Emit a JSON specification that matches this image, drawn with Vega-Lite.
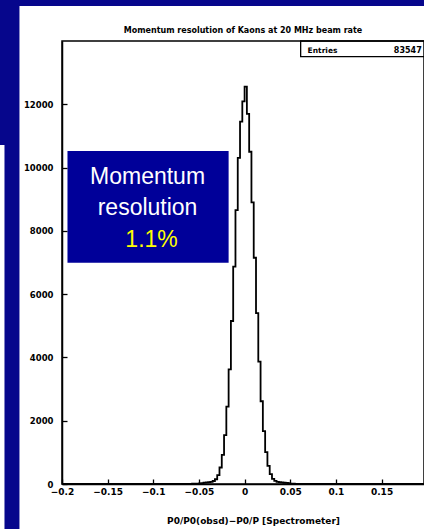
{
  "$schema": "https://vega.github.io/schema/vega-lite/v6.json",
  "width": 362,
  "height": 443,
  "autosize": {"type": "none"},
  "padding": {"left": 62, "top": 41, "right": 0, "bottom": 45},
  "background": "#06068c",
  "title": {
    "text": "Momentum resolution of Kaons at 20 MHz beam rate",
    "font": "DejaVu Sans",
    "fontSize": 8,
    "fontWeight": "bold",
    "color": "black",
    "offset": 0,
    "dy": 29,
    "anchor": "middle"
  },
  "config": {
    "view": {"stroke": null},
    "axis": {
      "grid": false,
      "labelOverlap": false,
      "labelBound": false,
      "labelFlush": false,
      "labelFont": "DejaVu Sans",
      "labelFontWeight": "bold",
      "labelColor": "black",
      "ticks": true,
      "tickSize": -5,
      "tickColor": "black",
      "tickWidth": 1.3,
      "domainColor": "black",
      "domainWidth": 1.5,
      "titleFont": "DejaVu Sans",
      "titleFontWeight": "bold",
      "titleColor": "black"
    },
    "axisX": {"labelFontSize": 9, "labelPadding": 8, "titleFontSize": 9, "titlePadding": 20},
    "axisY": {"labelFontSize": 8.5, "labelPadding": 14}
  },
  "layer": [
    {
      "data": {"values": [{}]},
      "mark": {"type": "rect", "fill": "white", "clip": false},
      "encoding": {
        "x": {"datum": -0.2466, "type": "quantitative", "scale": {"domain": [-0.2, 0.1965], "nice": false, "zero": false}},
        "x2": {"datum": 0.23},
        "y": {"datum": 15106, "type": "quantitative", "scale": {"domain": [0, 14000], "nice": false, "zero": false}},
        "y2": {"datum": -1500}
      }
    },
    {
      "data": {"values": [{}]},
      "mark": {"type": "rect", "fill": "white", "clip": false},
      "encoding": {
        "x": {"datum": -0.2685, "type": "quantitative"},
        "x2": {"datum": -0.263},
        "y": {"datum": 10713, "type": "quantitative"},
        "y2": {"datum": -1500}
      }
    },
    {
      "data": {
        "values": [
          {"x": -0.2, "n": 0},
          {"x": -0.0575, "n": 8},
          {"x": -0.055, "n": 12},
          {"x": -0.0525, "n": 15},
          {"x": -0.05, "n": 22},
          {"x": -0.0475, "n": 30},
          {"x": -0.045, "n": 42},
          {"x": -0.0425, "n": 50},
          {"x": -0.04, "n": 58},
          {"x": -0.0375, "n": 68},
          {"x": -0.035, "n": 95},
          {"x": -0.0325, "n": 150},
          {"x": -0.03, "n": 280},
          {"x": -0.0275, "n": 522},
          {"x": -0.025, "n": 923},
          {"x": -0.0225, "n": 1545},
          {"x": -0.02, "n": 2443},
          {"x": -0.0175, "n": 3624},
          {"x": -0.015, "n": 5151},
          {"x": -0.0125, "n": 6870},
          {"x": -0.01, "n": 8657},
          {"x": -0.0075, "n": 10309},
          {"x": -0.005, "n": 11450},
          {"x": -0.0025, "n": 12090},
          {"x": 0, "n": 12560},
          {"x": 0.0025, "n": 11700},
          {"x": 0.005, "n": 10500},
          {"x": 0.0075, "n": 8900},
          {"x": 0.01, "n": 7150},
          {"x": 0.0125, "n": 5400},
          {"x": 0.015, "n": 3870},
          {"x": 0.0175, "n": 2615},
          {"x": 0.02, "n": 1669},
          {"x": 0.0225, "n": 1007},
          {"x": 0.025, "n": 574},
          {"x": 0.0275, "n": 309},
          {"x": 0.03, "n": 160},
          {"x": 0.0325, "n": 100},
          {"x": 0.035, "n": 70},
          {"x": 0.0375, "n": 58},
          {"x": 0.04, "n": 50},
          {"x": 0.0425, "n": 40},
          {"x": 0.045, "n": 33},
          {"x": 0.0475, "n": 25},
          {"x": 0.05, "n": 15},
          {"x": 0.0525, "n": 10},
          {"x": 0.055, "n": 6},
          {"x": 0.0575, "n": 0},
          {"x": 0.2, "n": 0}
        ]
      },
      "mark": {"type": "line", "interpolate": "step-after", "color": "black", "strokeWidth": 1.8, "clip": true},
      "encoding": {
        "x": {
          "field": "x",
          "type": "quantitative",
          "axis": {
            "zindex": 2,
            "title": "P0/P0(obsd)−P0/P [Spectrometer]",
            "titleX": 191,
            "labelOverlap": false,
            "tickSize": -5,
            "labelPadding": 8,
            "values": [-0.2, -0.15, -0.1, -0.05, 0, 0.05, 0.1, 0.15],
            "format": "~g"
          }
        },
        "y": {
          "field": "n",
          "type": "quantitative",
          "axis": {
            "zindex": 2,
            "title": null,
            "labelOverlap": false,
            "tickSize": -5,
            "labelPadding": 14,
            "values": [0, 2000, 4000, 6000, 8000, 10000, 12000],
            "format": "d"
          }
        }
      }
    },
    {
      "data": {"values": [{}]},
      "mark": {"type": "rect", "fill": "#000099", "clip": false},
      "encoding": {
        "x": {"datum": -0.194, "type": "quantitative"},
        "x2": {"datum": -0.0175},
        "y": {"datum": 10524, "type": "quantitative"},
        "y2": {"datum": 6994}
      }
    },
    {
      "data": {"values": [{}]},
      "mark": {"type": "text", "text": "Momentum", "font": "Liberation Sans", "fontSize": 23, "color": "white", "align": "center", "baseline": "alphabetic", "clip": false},
      "encoding": {
        "x": {"datum": -0.1063, "type": "quantitative"},
        "y": {"datum": 9481, "type": "quantitative"}
      }
    },
    {
      "data": {"values": [{}]},
      "mark": {"type": "text", "text": "resolution", "font": "Liberation Sans", "fontSize": 23, "color": "white", "align": "center", "baseline": "alphabetic", "clip": false},
      "encoding": {
        "x": {"datum": -0.1063, "type": "quantitative"},
        "y": {"datum": 8501, "type": "quantitative"}
      }
    },
    {
      "data": {"values": [{}]},
      "mark": {"type": "text", "text": "1.1%", "font": "Liberation Sans", "fontSize": 23, "color": "#ffff00", "align": "center", "baseline": "alphabetic", "clip": false},
      "encoding": {
        "x": {"datum": -0.1019, "type": "quantitative"},
        "y": {"datum": 7490, "type": "quantitative"}
      }
    },
    {
      "data": {"values": [{}]},
      "mark": {"type": "rect", "fill": "white", "stroke": "black", "strokeWidth": 1.3, "clip": false},
      "encoding": {
        "x": {"datum": 0.0614, "type": "quantitative"},
        "x2": {"datum": 0.21},
        "y": {"datum": 14000, "type": "quantitative"},
        "y2": {"datum": 13504}
      }
    },
    {
      "data": {"values": [{}]},
      "mark": {"type": "text", "text": "Entries", "font": "DejaVu Sans", "fontSize": 7.5, "fontWeight": "bold", "color": "black", "align": "left", "baseline": "alphabetic", "clip": false},
      "encoding": {
        "x": {"datum": 0.069, "type": "quantitative"},
        "y": {"datum": 13621, "type": "quantitative"}
      }
    },
    {
      "data": {"values": [{}]},
      "mark": {"type": "text", "text": "83547", "font": "DejaVu Sans", "fontSize": 8, "fontWeight": "bold", "color": "black", "align": "right", "baseline": "alphabetic", "clip": false},
      "encoding": {
        "x": {"datum": 0.194, "type": "quantitative"},
        "y": {"datum": 13621, "type": "quantitative"}
      }
    },
    {
      "data": {"values": [{}]},
      "mark": {"type": "rect", "fill": null, "stroke": "black", "strokeWidth": 1.5, "clip": false},
      "encoding": {
        "x": {"datum": -0.2, "type": "quantitative"},
        "x2": {"datum": 0.1965},
        "y": {"datum": 0, "type": "quantitative"},
        "y2": {"datum": 14000}
      }
    }
  ]
}
